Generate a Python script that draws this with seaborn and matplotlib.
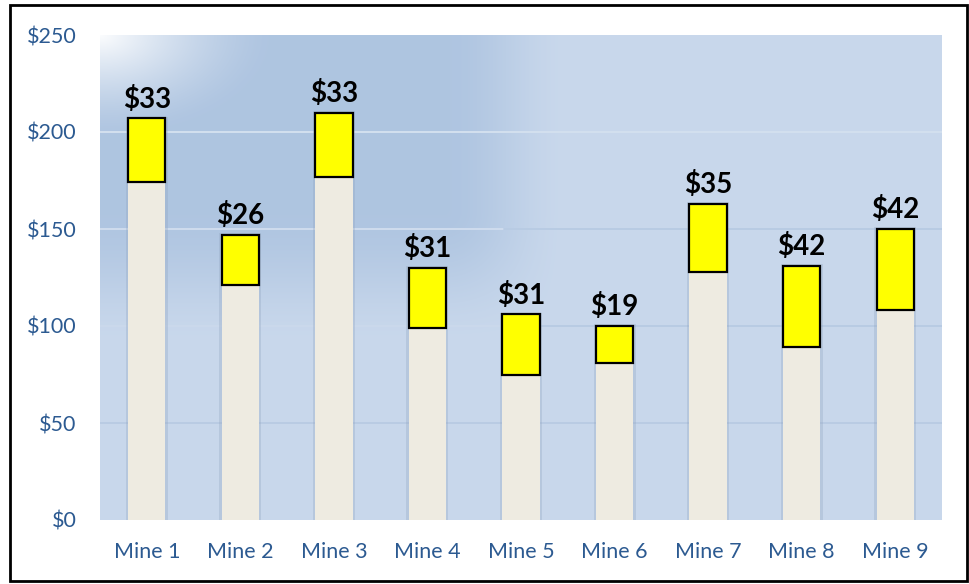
import numpy as np
import pandas as pd
import matplotlib
matplotlib.use("Agg")
import matplotlib.pyplot as plt
from matplotlib.patches import Rectangle
import seaborn as sns

# Cost per mine: base cost plus the additional cost shown in yellow
mines = ["Mine 1", "Mine 2", "Mine 3", "Mine 4", "Mine 5",
         "Mine 6", "Mine 7", "Mine 8", "Mine 9"]
base_cost = [174, 121, 177, 99, 75, 81, 128, 89, 108]
extra_cost = [33, 26, 33, 31, 31, 19, 35, 42, 42]
y_ticks = [0, 50, 100, 150, 200, 250]

df = pd.DataFrame({"mine": mines, "base": base_cost, "extra": extra_cost})
df["total"] = df["base"] + df["extra"]

sns.set_theme(style="white")
plt.rcParams["font.family"] = ["Lato", "DejaVu Sans"]

fig = plt.figure(figsize=(9.7, 5.84), dpi=100)
ax = fig.add_axes([100 / 970, 64 / 584, 842 / 970, 485 / 584])
ax.set_facecolor("none")

n = len(mines)
ax.set_xlim(-0.5, n - 0.5)
ax.set_ylim(0, 250)

# Soft blue gradient backdrop with a bright glow in the upper-left corner
H, W = 485, 842
yy, xx = np.mgrid[0:H, 0:W].astype(float)

def smooth(t):
    t = np.clip(t, 0, 1)
    return t * t * (3 - 2 * t)

fx = 1 - smooth((xx / W - 0.41) / 0.15)
fy = 1 - smooth((yy - 175) / 140)
w = (fx * fy)[..., None]
light = np.array([0.788, 0.847, 0.925])
dark = np.array([0.686, 0.773, 0.882])
img = light * (1 - w) + dark * w
r = np.sqrt((xx / 170) ** 2 + (yy / 100) ** 2)
glow = (np.clip(1 - r, 0, 1) ** 1.4 * 0.95)[..., None]
img = img * (1 - glow) + glow
ax.imshow(img, extent=(-0.5, n - 0.5, 0, 250), aspect="auto",
          zorder=0, interpolation="bilinear")

# Gridlines: pale over the darker band, a touch darker over the light area
grid_colors = {50: ("#b9cbe3", "#b9cbe3"),
               100: ("#cbd9ec", "#b8cbe3"),
               150: ("#cfdcee", "#b8cbe3"),
               200: ("#d3e0ef", "#d3e0ef")}
for val, (cl, cr) in grid_colors.items():
    ax.axhline(val, xmin=0, xmax=0.48, color=cl, lw=1.4, zorder=0.5)
    ax.axhline(val, xmin=0.48, xmax=1, color=cr, lw=1.4, zorder=0.5)

x = np.arange(n)
bw = 0.4

# Faint shadow around every column
for xi, tot in zip(x, df["total"]):
    ax.add_patch(Rectangle((xi - bw / 2 - 0.025, 0), bw + 0.05, tot + 0.8,
                           facecolor="#8ea2bd", alpha=0.3, lw=0, zorder=1))

sns.barplot(data=df, x="mine", y="base", color="#eeebe1", width=bw,
            saturation=1, edgecolor="none", linewidth=0, ax=ax, zorder=2)
ax.bar(x, df["extra"], bottom=df["base"], width=bw, color="#ffff00",
       edgecolor="black", linewidth=1.6, zorder=3)

for xi, tot, ext in zip(x, df["total"], df["extra"]):
    ax.annotate(f"${ext}", (xi, tot), xytext=(0, 4), textcoords="offset points",
                ha="center", va="bottom", fontsize=20, fontweight="bold",
                color="black", zorder=4)

ax.set_yticks(y_ticks)
ax.set_yticklabels([f"${v}" for v in y_ticks])
ax.tick_params(axis="y", length=0, pad=17, labelsize=15.5, labelcolor="#2c5a91")
ax.tick_params(axis="x", length=0, pad=16, labelsize=15.5, labelcolor="#2c5a91")
ax.set_xlabel("")
ax.set_ylabel("")
for s in ax.spines.values():
    s.set_visible(False)

# Outer frame around the whole chart
fig.patches.append(Rectangle((10 / 970, 3 / 584), 957 / 970, 576 / 584,
                             transform=fig.transFigure, fill=False,
                             edgecolor="black", linewidth=2))

fig.savefig("out.png", dpi=100)
